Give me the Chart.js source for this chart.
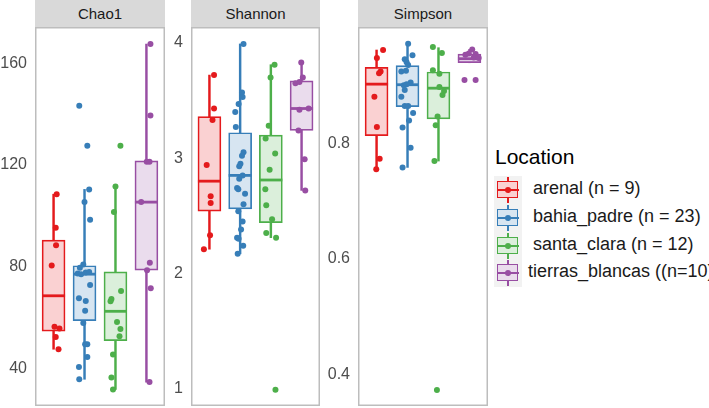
<!DOCTYPE html>
<html>
<head>
<meta charset="utf-8">
<script src="https://cdn.jsdelivr.net/npm/chart.js@4"></script>
<style>
  body { margin: 0; background: #fff; font-family: "Liberation Sans", Arial, sans-serif; }
  #wrap { position: relative; width: 709px; height: 408px; overflow: hidden; }
  .panel { position: absolute; top: 27px; height: 379px; }
  .strip { position: absolute; top: 0; height: 27px; background: #d9d9d9; color: #1a1a1a;
           font-size: 15px; line-height: 27px; text-align: center; }
  .leg-title { position: absolute; left: 495px; top: 145px; font-size: 21px; color: #000; }
  .leg-item { position: absolute; left: 494px; height: 28px; }
  .key { position: absolute; left: 0; top: 0; width: 28px; height: 28px; background: #f2f2f2; }
  .key .wh { position: absolute; left: 13px; top: 1px; width: 1.8px; height: 26px; }
  .key .bx { position: absolute; left: 3px; top: 5px; width: 19px; height: 15px; border: 1.6px solid; }
  .key .md { position: absolute; left: 3px; top: 12.5px; width: 22px; height: 2px; }
  .key .dt { position: absolute; left: 11px; top: 11px; width: 6px; height: 6px; border-radius: 50%; }
  .leg-label { position: absolute; top: 2px; font-size: 18px; color: #1a1a1a; white-space: nowrap; }
</style>
</head>
<body>
<div id="wrap">
  <div class="strip" style="left:35px;width:130px">Chao1</div>
  <div class="strip" style="left:191px;width:129px">Shannon</div>
  <div class="strip" style="left:358px;width:130px">Simpson</div>
  <div class="panel" style="left:0;width:165px"><canvas id="chao"></canvas></div>
  <div class="panel" style="left:165px;width:155px"><canvas id="shannon"></canvas></div>
  <div class="panel" style="left:320px;width:168px"><canvas id="simpson"></canvas></div>
  <div class="leg-title">Location</div>
  <div id="legend"></div>
</div>
<script>
// groups
const locations = ["arenal", "bahia_padre", "santa_clara", "tierras_blancas"];
const legendLabels = ["arenal (n = 9)", "bahia_padre (n = 23)", "santa_clara (n = 12)", "tierras_blancas ((n=10)"];
const colors = ["#e41a1c", "#377eb8", "#4daf4a", "#984ea3"];
const fills = ["#fad1d2", "#d7e5f1", "#dbefdb", "#eadced"];

// box stats per group: [lower whisker, q1, median, q3, upper whisker]
const chaoStats = [[47.6, 54.7, 68.6, 90.5, 108.5], [35.8, 58.8, 77.1, 80.4, 110.4], [31.8, 51.0, 62.5, 78.0, 111.5], [34.7, 78.7, 105.4, 121.6, 167.5]];
const shannonStats = [[2.21, 2.54, 2.80, 3.36, 3.72], [2.17, 2.56, 2.85, 3.22, 3.99], [2.31, 2.44, 2.81, 3.20, 3.81], [2.72, 3.24, 3.43, 3.67, 3.83]];
const simpsonStats = [[0.755, 0.813, 0.902, 0.931, 0.961], [0.758, 0.863, 0.901, 0.934, 0.972], [0.769, 0.842, 0.895, 0.923, 0.965], [0.939, 0.939, 0.946, 0.954, 0.962]];

// sample values (points) and their horizontal jitter
const chaoPts = [
  [108.5, 95.3, 88.5, 80.5, 56.4, 55.7, 52.4, 47.6],
  [143.3, 127.5, 110.4, 105.4, 98.5, 80.9, 79.6, 77.4, 77.1, 77.7, 77.9, 72.8, 67.6, 66.6, 62.7, 57.9, 49.6, 49.6, 44.6, 40.6, 35.8],
  [127.5, 111.5, 101.5, 70.5, 67.3, 66.5, 58.3, 55.6, 52.7, 45.5, 36.5, 31.8],
  [167.5, 139.4, 121.3, 121.3, 105.4, 81.6, 78.6, 71.6, 34.7]
];
const chaoJit = [
  [0.10, 0.07, 0.08, -0.06, 0.03, 0.19, 0.07, 0.16],
  [-0.17, 0.09, 0.15, 0.0, 0.18, -0.04, -0.15, -0.22, -0.11, 0.04, 0.15, 0.18, -0.18, 0.04, 0.02, -0.04, 0.02, 0.09, 0.09, -0.18, -0.17],
  [0.16, 0.0, -0.05, 0.18, -0.13, -0.16, 0.05, 0.16, 0.13, -0.08, -0.13, -0.08],
  [0.13, 0.13, 0.01, 0.1, -0.17, 0.11, 0.02, 0.14, 0.1]
];
const shannonPts = [
  [3.72, 3.43, 3.33, 2.94, 2.67, 2.61, 2.33, 2.21],
  [3.99, 3.57, 3.53, 3.47, 3.40, 3.27, 3.05, 3.02, 2.95, 2.93, 2.85, 2.82, 2.74, 2.73, 2.69, 2.60, 2.54, 2.45, 2.38, 2.31, 2.30, 2.24, 2.17],
  [3.81, 3.70, 3.28, 3.17, 3.04, 2.90, 2.73, 2.59, 2.47, 2.35, 2.31, 0.99],
  [3.83, 3.70, 3.65, 3.66, 3.42, 3.43, 3.24, 2.99, 2.72]
];
const shannonJit = [
  [0.15, 0.15, 0.1, -0.09, 0.04, 0.04, 0.02, -0.18],
  [0.11, 0.06, 0.08, -0.05, -0.16, -0.14, 0.11, 0.06, 0.01, -0.03, 0.08, -0.03, -0.1, -0.06, 0.16, 0.11, -0.06, 0.08, 0.03, -0.1, -0.05, 0.1, -0.08],
  [0.12, -0.01, -0.07, -0.17, 0.14, -0.04, -0.18, -0.15, 0.04, -0.15, 0.17, 0.15],
  [-0.01, 0.04, -0.2, -0.07, -0.07, 0.23, -0.1, 0.1, 0.12]
];
const simpsonPts = [
  [0.961, 0.947, 0.924, 0.921, 0.880, 0.828, 0.773, 0.755],
  [0.972, 0.952, 0.945, 0.940, 0.935, 0.924, 0.925, 0.905, 0.900, 0.902, 0.892, 0.880, 0.864, 0.864, 0.852, 0.839, 0.827, 0.792, 0.758],
  [0.966, 0.956, 0.926, 0.920, 0.897, 0.890, 0.883, 0.846, 0.831, 0.769, 0.373],
  [0.962, 0.955, 0.954, 0.953, 0.948, 0.947, 0.909, 0.909]
];
const simpsonJit = [
  [0.21, 0.01, 0.13, 0.08, -0.07, 0.01, 0.1, -0.01],
  [0.02, 0.16, -0.09, -0.03, 0.02, -0.2, -0.05, 0.1, -0.12, -0.03, -0.09, -0.2, -0.09, 0.02, 0.18, 0.05, -0.16, 0.1, -0.16],
  [-0.18, 0.11, -0.18, 0.03, 0.03, 0.18, 0.13, -0.03, -0.09, -0.13, -0.05],
  [0.09, -0.02, 0.2, -0.13, 0.14, 0.3, -0.16, 0.2]
];

// axis ticks and limits
const chaoTicks = [40, 80, 120, 160];
const shannonTicks = [1, 2, 3, 4];
const simpsonTicks = [0.4, 0.6, 0.8];
const chaoRange = [25.3, 174.2];
const shannonRange = [0.85, 4.137];
const simpsonRange = [0.3454, 1.0008];

Chart.defaults.font.family = "'Liberation Sans', Arial, sans-serif";
Chart.defaults.animation = false;

const panelBorder = {
  id: "panelBorder",
  afterDraw(chart) {
    const a = chart.chartArea, ctx = chart.ctx;
    ctx.save();
    ctx.strokeStyle = "#bdbdbd";
    ctx.lineWidth = 1.5;
    ctx.strokeRect(a.left + 0.75, a.top + 0.75, a.right - a.left - 1.5, a.bottom - a.top - 1.5);
    ctx.restore();
  }
};

function boxPanel(id, stats, pts, jit, range, ticks, axisW) {
  const datasets = [];
  pts.forEach((arr, g) => {
    datasets.push({
      type: "scatter",
      data: arr.map((v, k) => ({ x: g + 1 + jit[g][k], y: v })),
      backgroundColor: colors[g],
      borderWidth: 0,
      pointRadius: 3,
      order: 0
    });
  });
  datasets.push({
    type: "scatter",
    data: stats.map((s, g) => ({ x: g + 1, y: s[2] })),
    pointStyle: "line",
    pointRadius: 11.5,
    borderColor: colors,
    borderWidth: 2.8,
    order: 1
  });
  datasets.push({
    type: "bar",
    data: stats.map((s, g) => ({ x: g + 1, y: [s[1], s[3]] })),
    backgroundColor: fills,
    borderColor: colors,
    borderWidth: 1.7,
    borderSkipped: false,
    barThickness: 23,
    grouped: false,
    order: 2
  });
  datasets.push({
    type: "bar",
    data: stats.map((s, g) => ({ x: g + 1, y: [s[0], s[4]] })),
    backgroundColor: colors,
    barThickness: 1.8,
    grouped: false,
    order: 3
  });

  return new Chart(document.getElementById(id), {
    type: "bar",
    data: { datasets },
    options: {
      responsive: true,
      maintainAspectRatio: false,
      layout: { padding: 0, autoPadding: false },
      plugins: { legend: { display: false }, tooltip: { enabled: false } },
      scales: {
        x: { type: "linear", min: 0.4, max: 4.6, offset: false, display: false },
        y: {
          min: range[0],
          max: range[1],
          afterBuildTicks: (s) => { s.ticks = ticks.map((v) => ({ value: v })); },
          afterFit: (s) => {
            s.width = axisW;
            s.paddingTop = 0;
            s.paddingBottom = 0;
          },
          grid: { display: false, drawTicks: false },
          border: { display: false },
          ticks: { color: "#4d4d4d", font: { size: 16 }, padding: 8 }
        }
      }
    },
    plugins: [panelBorder]
  });
}

boxPanel("chao", chaoStats, chaoPts, chaoJit, chaoRange, chaoTicks, 35);
boxPanel("shannon", shannonStats, shannonPts, shannonJit, shannonRange, shannonTicks, 26);
boxPanel("simpson", simpsonStats, simpsonPts, simpsonJit, simpsonRange, simpsonTicks, 38);

// legend
const legendTops = [176, 204, 232, 259];
const labelLefts = [39, 39, 39, 34];
const legend = document.getElementById("legend");
locations.forEach((loc, i) => {
  const item = document.createElement("div");
  item.className = "leg-item";
  item.style.top = legendTops[i] + "px";
  item.innerHTML =
    '<div class="key">' +
    '<div class="wh" style="background:' + colors[i] + '"></div>' +
    '<div class="bx" style="border-color:' + colors[i] + ';background:' + fills[i] + '"></div>' +
    '<div class="md" style="background:' + colors[i] + '"></div>' +
    '<div class="dt" style="background:' + colors[i] + '"></div>' +
    "</div>" +
    '<div class="leg-label" style="left:' + labelLefts[i] + 'px">' + legendLabels[i] + "</div>";
  legend.appendChild(item);
});
</script>
</body>
</html>
